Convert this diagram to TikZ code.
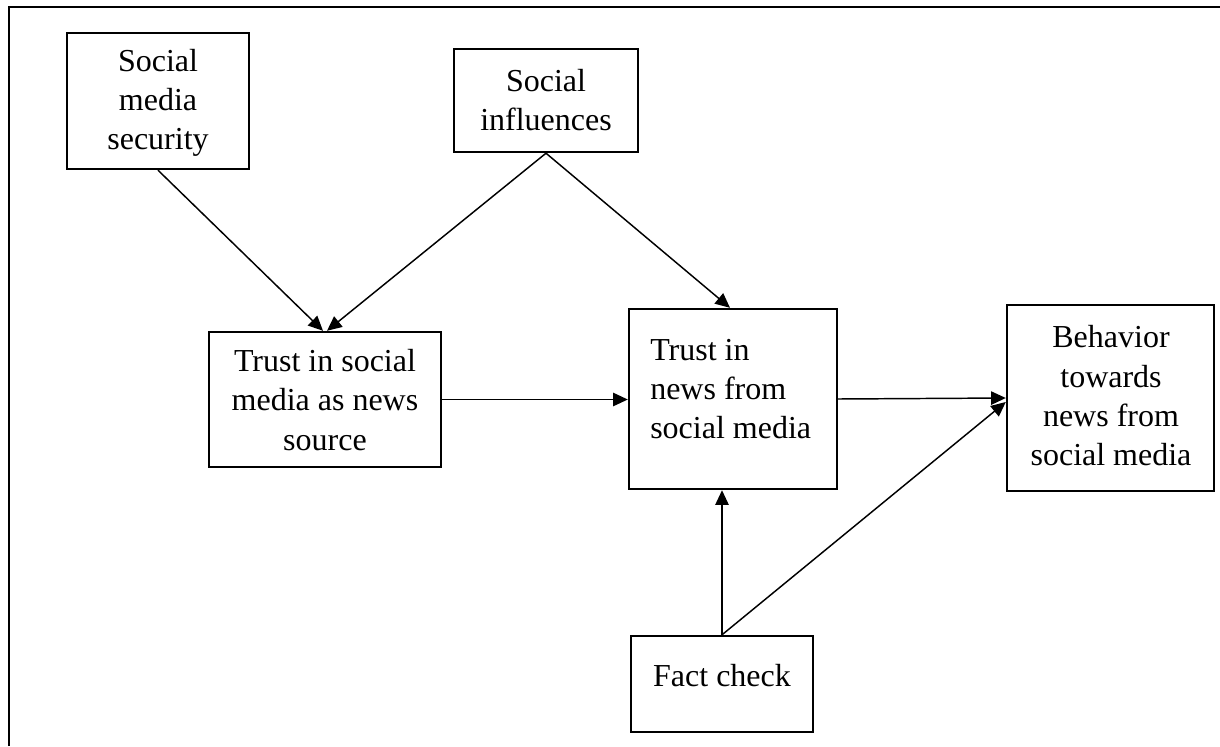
\documentclass[tikz,border=0pt]{standalone}
\usepackage{fontspec}
\setmainfont{Liberation Serif}
\usetikzlibrary{arrows.meta,fit,calc}
\begin{document}
\begin{tikzpicture}[x=0.75pt,y=-0.75pt,
  box/.style={draw, line width=1.8pt, inner sep=0pt},
  txt/.style={inner sep=0pt, align=center, font=\fontsize{24}{29.5}\selectfont},
  conn/.style={line width=1.1pt, -{Triangle[length=11pt,width=10pt]}},
  frame/.style={line width=1.6pt}]
\useasboundingbox (0,0) rectangle (1220,746);
\draw[frame] (9,746) -- (9,7) -- (1220,7);
% boxes
\node[box, fit={(67,33) (249,169)}] (sms) {};
\node[box, fit={(454,49) (638,152)}] (si) {};
\node[box, fit={(209,332) (441,467)}] (tsm) {};
\node[box, fit={(629,309) (837,489)}] (tn) {};
\node[box, fit={(1007,305) (1214,491)}] (beh) {};
\node[box, fit={(631,636) (813,732)}] (fc) {};
% texts
\node[txt] (smst) at (158,103) {Social\\media\\security};
\node[txt] (sit) at (546,100) {Social\\influences};
\node[txt] (tsmt) at (325,400) {Trust in social\\media as news\\source};
\node[txt, align=left, anchor=west] (tnt) at (650,389) {Trust in\\news from\\social media};
\node[txt] (beht) at (1111,396) {Behavior\\towards\\news from\\social media};
\node[txt] (fct) at (722,676) {Fact check};
% connectors
\draw[conn] (sms.south) -- ($(tsm.north)+(-2,0)$);
\draw[conn] (si.south) -- ($(tsm.north)+(2,0)$);
\draw[conn] (si.south) -- ($(tn.north)+(-3,0)$);
\draw[conn] (tsm.east) -- (tsm.east -| tn.west);
\draw[conn] (tn.east) -- (beh.west);
\draw[conn] (fc.north) -- (fc.north |- tn.south);
\draw[conn] (fc.north) -- ($(beh.west)+(0,4)$);
\end{tikzpicture}
\end{document}
